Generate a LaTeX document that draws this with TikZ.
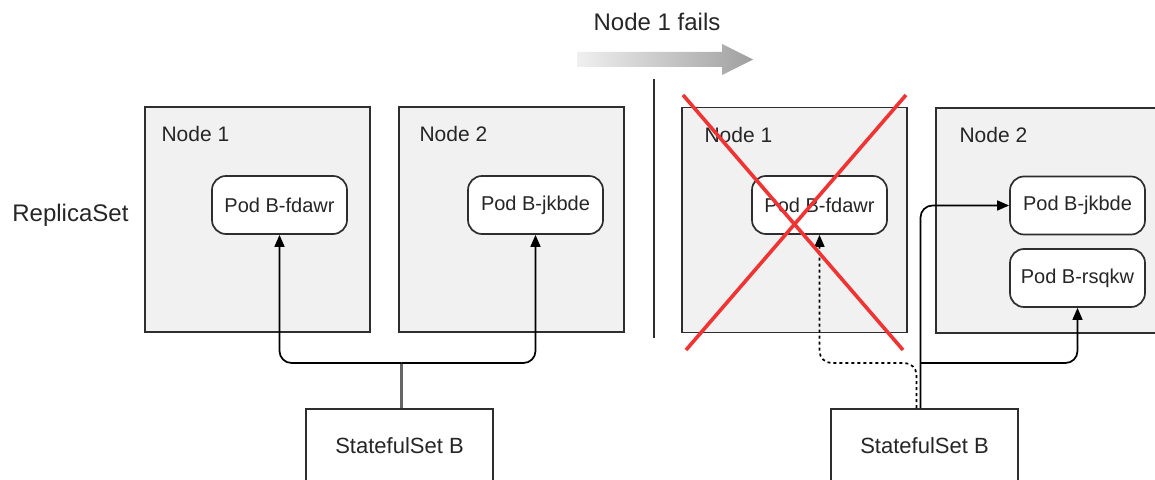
\documentclass[tikz,border=0pt]{standalone}
\usepackage{fontspec}
\setmainfont{Liberation Sans}
\usetikzlibrary{arrows.meta,positioning}

\definecolor{boxfill}{HTML}{F1F1F1}
\definecolor{edge}{HTML}{2E2E2E}
\definecolor{cross}{HTML}{F03434}

\tikzset{
	nodebox/.style={draw=edge, line width=0.85pt, fill=boxfill, minimum width=112.5pt, minimum height=112.5pt, inner sep=0pt},
	podbox/.style={draw=edge, line width=0.85pt, fill=white, rounded corners=7pt, minimum width=67.5pt, minimum height=29pt, inner sep=0pt, font=\fontsize{10}{12}\selectfont, text=black!85},
	setbox/.style={draw=edge, line width=0.85pt, fill=white, minimum width=93.5pt, minimum height=36.5pt, inner sep=0pt, font=\fontsize{11}{13}\selectfont, text=black!85},
	lbl/.style={anchor=west, inner sep=0pt, font=\fontsize{10.5}{12}\selectfont, text=black!85},
	link/.style={line width=0.85pt, rounded corners=6pt, -{Stealth[length=6pt, angle'=45, inset=0pt]}}
}

\begin{document}
\begin{tikzpicture}[x=0.5pt, y=-0.5pt]
	\clip (0,0) rectangle (1155,480);
	\shade[left color=gray!12, right color=gray!75] (577,52) -- (722,52) -- (722,44) -- (753,59.5) -- (722,75) -- (722,67) -- (577,67) -- cycle;
	\node[font=\fontsize{12}{14}\selectfont, text=black!85] (fails) at (657,22) {Node 1 fails};
	\draw[line width=0.85pt, edge] (654,79) -- (654,338);
	\node[font=\fontsize{12}{14}\selectfont, text=black!85, anchor=west, inner sep=0pt] (rs) at (12,215) {ReplicaSet};

	\node[nodebox] (n1L) at (257.5,219.5) {};
	\node[nodebox] (n2L) at (511.5,219.5) {};
	\node[nodebox] (n1R) at (794.5,220) {};
	\node[nodebox] (n2R) at (1048.5,220.5) {};
	\node[lbl] at ([xshift=8.5pt,yshift=-14pt]n1L.north west) {Node 1};
	\node[lbl] at ([xshift=10.5pt,yshift=-14pt]n2L.north west) {Node 2};
	\node[lbl] at ([xshift=11.5pt,yshift=-14pt]n1R.north west) {Node 1};
	\node[lbl] at ([xshift=12pt,yshift=-14pt]n2R.north west) {Node 2};

	\node[podbox] (podL1) at (279.5,205) {Pod B-fdawr};
	\node[podbox] (podL2) at (535.5,205) {Pod B-jkbde};
	\node[podbox] (podR1) at (819.5,205) {Pod B-fdawr};
	\node[podbox] (podR2) at (1077.5,205.5) {Pod B-jkbde};
	\node[podbox] (podR3) at (1077.5,278) {Pod B-rsqkw};

	\node[setbox] (setL) at (399.5,445.5) {StatefulSet B};
	\node[setbox] (setR) at (924.5,445.5) {StatefulSet B};

	\coordinate (busY) at (0,363);
	\draw[line width=1.1pt, black!60] ([xshift=1pt]setL.north) -- ([xshift=1pt]setL.north |- busY) coordinate (jL);
	\draw[link] (jL) -| (podL1.south);
	\draw[link] (jL) -| (podL2.south);

	\draw[link, dash pattern=on 1.5pt off 1.5pt] ([xshift=-4pt]setR.north) |- (busY -| podR1.south) -- (podR1.south);
	\draw[link] ([xshift=-2pt]setR.north) |- (podR2.west);
	\draw[link] ([xshift=-2pt]setR.north |- busY) -| (podR3.south);

	\draw[cross, line width=1.8pt] (683,95) -- (903,350);
	\draw[cross, line width=1.8pt] (906,95) -- (686,350);
\end{tikzpicture}
\end{document}
